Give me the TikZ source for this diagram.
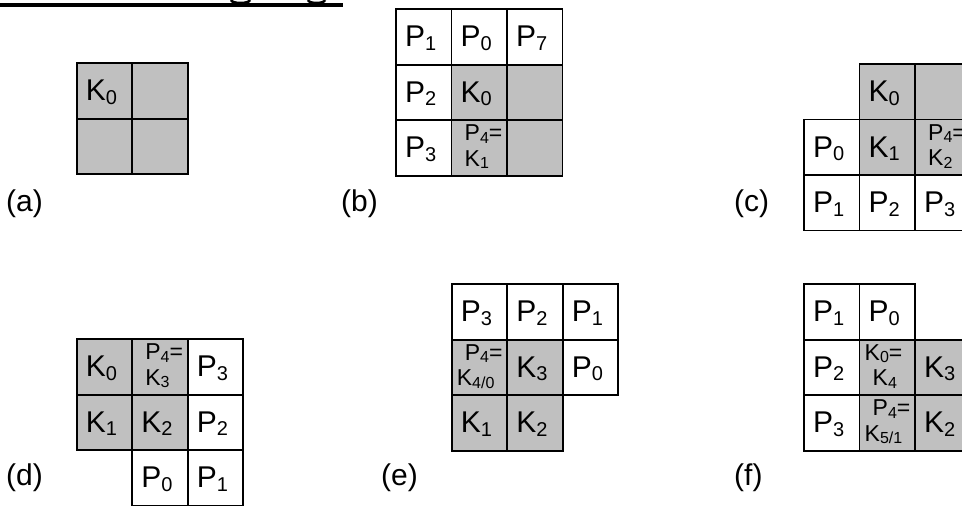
\documentclass[tikz,border=0pt]{standalone}
\usepackage{fontspec}
\setmainfont{Liberation Sans}
\definecolor{cellgrey}{RGB}{192,192,192}
\newcommand\lowsub[1]{\raisebox{-3.5pt}{\fontsize{20}{20}\selectfont #1}}
\newcommand\smsub[1]{\raisebox{-2.5pt}{\fontsize{16}{16}\selectfont #1}}
\newcommand\mkcell[6]{\node[#6] (#1) at ({#2+(#4+0.5)*55.5},{#3+(#5+0.5)*55.5}) {};}
\newcommand\bigin[2]{\node[bigtxt] (#1t) at ([xshift=9pt,yshift=-37.5pt]#1.north west) {#2};}
\newcommand\twoin[5]{%
  \node[smtxt] (#1u) at ([xshift=#3pt,yshift=-20.5pt]#1.north west) {#2};
  \node[smtxt] (#1l) at ([xshift=#5pt,yshift=-46pt]#1.north west) {#4};}
\tikzset{
  cellbox/.style={draw=black, line width=1.8pt, minimum width=55.5pt, minimum height=55.5pt, inner sep=0pt, outer sep=0pt},
  gcell/.style={cellbox, fill=cellgrey},
  wcell/.style={cellbox, fill=white},
  bigtxt/.style={anchor=base west, inner sep=0pt, font=\fontsize{30}{30}\selectfont},
  smtxt/.style={anchor=base west, inner sep=0pt, font=\fontsize{23}{23}\selectfont},
  lbl/.style={anchor=base west, inner sep=0pt, font=\fontsize{30}{30}\selectfont},
}
\begin{document}
\begin{tikzpicture}[x=1pt,y=-1pt]
\useasboundingbox (0,0) rectangle (962,506);
% title remnant
\fill (0,3.3) rectangle (342.7,7.3);
\draw[line width=2.5pt] (231,0) .. controls (232,4) and (249,4) .. (250,0);
\draw[line width=2.5pt] (308,0) .. controls (309,4) and (324,4) .. (325,0);

% (a)
\mkcell{a11}{76.7}{63.3}{0}{0}{gcell} \bigin{a11}{K\lowsub{0}}
\mkcell{a12}{76.7}{63.3}{1}{0}{gcell}
\mkcell{a21}{76.7}{63.3}{0}{1}{gcell}
\mkcell{a22}{76.7}{63.3}{1}{1}{gcell}
\node[lbl] (la) at (6,211) {(a)};

% (b)
\mkcell{b11}{396}{9.3}{0}{0}{wcell} \bigin{b11}{P\lowsub{1}}
\mkcell{b12}{396}{9.3}{1}{0}{wcell} \bigin{b12}{P\lowsub{0}}
\mkcell{b13}{396}{9.3}{2}{0}{wcell} \bigin{b13}{P\lowsub{7}}
\mkcell{b21}{396}{9.3}{0}{1}{wcell} \bigin{b21}{P\lowsub{2}}
\mkcell{b22}{396}{9.3}{1}{1}{gcell} \bigin{b22}{K\lowsub{0}}
\mkcell{b23}{396}{9.3}{2}{1}{gcell}
\mkcell{b31}{396}{9.3}{0}{2}{wcell} \bigin{b31}{P\lowsub{3}}
\mkcell{b32}{396}{9.3}{1}{2}{gcell} \twoin{b32}{P\smsub{4}=}{13}{K\smsub{1}}{13}
\mkcell{b33}{396}{9.3}{2}{2}{gcell}
\node[lbl] (lb) at (341,211) {(b)};

% (c)
\mkcell{c12}{804}{64}{1}{0}{gcell} \bigin{c12}{K\lowsub{0}}
\mkcell{c13}{804}{64}{2}{0}{gcell}
\mkcell{c21}{804}{64}{0}{1}{wcell} \bigin{c21}{P\lowsub{0}}
\mkcell{c22}{804}{64}{1}{1}{gcell} \bigin{c22}{K\lowsub{1}}
\mkcell{c23}{804}{64}{2}{1}{gcell} \twoin{c23}{P\smsub{4}=}{13}{K\smsub{2}}{13}
\mkcell{c31}{804}{64}{0}{2}{wcell} \bigin{c31}{P\lowsub{1}}
\mkcell{c32}{804}{64}{1}{2}{wcell} \bigin{c32}{P\lowsub{2}}
\mkcell{c33}{804}{64}{2}{2}{wcell} \bigin{c33}{P\lowsub{3}}
\node[lbl] (lc) at (734,211) {(c)};

% (d)
\mkcell{d11}{76.7}{339.3}{0}{0}{gcell} \bigin{d11}{K\lowsub{0}}
\mkcell{d12}{76.7}{339.3}{1}{0}{gcell} \twoin{d12}{P\smsub{4}=}{13}{K\smsub{3}}{13}
\mkcell{d13}{76.7}{339.3}{2}{0}{wcell} \bigin{d13}{P\lowsub{3}}
\mkcell{d21}{76.7}{339.3}{0}{1}{gcell} \bigin{d21}{K\lowsub{1}}
\mkcell{d22}{76.7}{339.3}{1}{1}{gcell} \bigin{d22}{K\lowsub{2}}
\mkcell{d23}{76.7}{339.3}{2}{1}{wcell} \bigin{d23}{P\lowsub{2}}
\mkcell{d32}{76.7}{339.3}{1}{2}{wcell} \bigin{d32}{P\lowsub{0}}
\mkcell{d33}{76.7}{339.3}{2}{2}{wcell} \bigin{d33}{P\lowsub{1}}
\node[lbl] (ld) at (6,485) {(d)};

% (e)
\mkcell{e11}{451.7}{284.3}{0}{0}{wcell} \bigin{e11}{P\lowsub{3}}
\mkcell{e12}{451.7}{284.3}{1}{0}{wcell} \bigin{e12}{P\lowsub{2}}
\mkcell{e13}{451.7}{284.3}{2}{0}{wcell} \bigin{e13}{P\lowsub{1}}
\mkcell{e21}{451.7}{284.3}{0}{1}{gcell} \twoin{e21}{P\smsub{4}=}{13}{K\smsub{4/0}}{5}
\mkcell{e22}{451.7}{284.3}{1}{1}{gcell} \bigin{e22}{K\lowsub{3}}
\mkcell{e23}{451.7}{284.3}{2}{1}{wcell} \bigin{e23}{P\lowsub{0}}
\mkcell{e31}{451.7}{284.3}{0}{2}{gcell} \bigin{e31}{K\lowsub{1}}
\mkcell{e32}{451.7}{284.3}{1}{2}{gcell} \bigin{e32}{K\lowsub{2}}
\node[lbl] (le) at (381,485) {(e)};

% (f)
\mkcell{f11}{804}{284.3}{0}{0}{wcell} \bigin{f11}{P\lowsub{1}}
\mkcell{f12}{804}{284.3}{1}{0}{wcell} \bigin{f12}{P\lowsub{0}}
\mkcell{f21}{804}{284.3}{0}{1}{wcell} \bigin{f21}{P\lowsub{2}}
\mkcell{f22}{804}{284.3}{1}{1}{gcell} \twoin{f22}{K\smsub{0}=}{5}{K\smsub{4}}{13}
\mkcell{f23}{804}{284.3}{2}{1}{gcell} \bigin{f23}{K\lowsub{3}}
\mkcell{f31}{804}{284.3}{0}{2}{wcell} \bigin{f31}{P\lowsub{3}}
\mkcell{f32}{804}{284.3}{1}{2}{gcell} \twoin{f32}{P\smsub{4}=}{13}{K\smsub{5/1}}{5}
\mkcell{f33}{804}{284.3}{2}{2}{gcell} \bigin{f33}{K\lowsub{2}}
\node[lbl] (lf) at (734,485) {(f)};
\end{tikzpicture}
\end{document}
